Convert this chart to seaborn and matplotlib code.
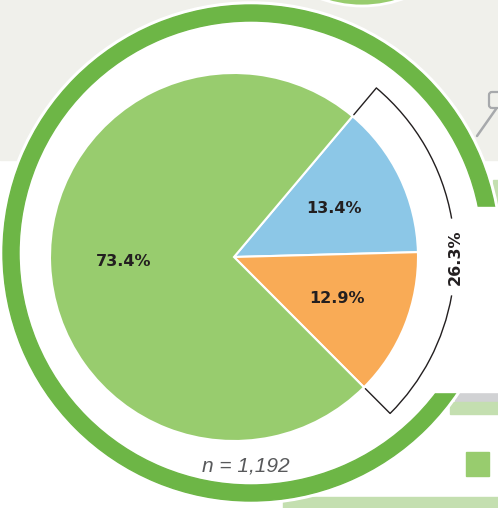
import numpy as np
import seaborn as sns
import matplotlib.pyplot as plt
from matplotlib.patches import Wedge, Circle, Rectangle, Arc, FancyBboxPatch

# pie data (clockwise from the top-right boundary)
segments = ["Blue", "Orange", "Green"]
shares = [13.4, 12.9, 73.4]
share_labels = ["13.4%", "12.9%", "73.4%"]
seg_colors = ["#8cc7e7", "#f9ab56", "#98cc6e"]
n_total = 1192

W, H = 498, 508
PIE_C = (234, H - 257)
PIE_R = 184
RING_C = (251, H - 253)

sns.set_theme(style="white")
plt.rcParams['font.family'] = ['DejaVu Sans']

fig = plt.figure(figsize=(W / 100, H / 100), dpi=100)
ax = fig.add_axes([0, 0, 1, 1])

# background decorations
ax.add_patch(Rectangle((0, H - 160), W, 160, color="#f0f0eb", zorder=0))
ax.add_patch(Circle((362, H + 114), 120, facecolor="#98cc6e", edgecolor="white", lw=2, zorder=1))
ax.add_patch(Rectangle((493, H - 207), 10, 27, color="#c4dfb0", zorder=1))
ax.add_patch(Rectangle((455, H - 402), 50, 10, color="#d1d2d4", zorder=1))
ax.add_patch(Rectangle((450, H - 414), 55, 12, color="#c4dfb0", zorder=1))
ax.add_patch(Rectangle((283, 0), 220, 11, color="#c4dfb0", zorder=1))
ax.add_patch(Rectangle((466, H - 476), 23, 24, color="#98cc6e", zorder=1))
ax.add_patch(FancyBboxPatch((490, H - 107), 14, 14, boxstyle="round,pad=1,rounding_size=3",
                            facecolor="none", edgecolor="#a7a9ac", lw=1.6, zorder=1))
ax.plot([496, 477], [H - 109, H - 136], color="#a7a9ac", lw=1.8, zorder=1)

# big ring with white halo
ax.add_patch(Circle(RING_C, 251, color="white", zorder=2))
ax.add_patch(Wedge(RING_C, 248, 0, 360, width=16, color="#6db646", zorder=3))
ax.add_patch(Rectangle((425, H - 392), 80, 185, color="white", zorder=4))

wedges, texts = ax.pie(
    shares, colors=seg_colors, center=PIE_C, radius=PIE_R,
    startangle=49.9, counterclock=False,
    labels=share_labels, labeldistance=0.603,
    wedgeprops=dict(edgecolor="white", linewidth=1.5, zorder=5),
    textprops=dict(fontsize=11.5, fontweight="bold", color="#231f20"),
)
for t in texts:
    t.set_ha("center")
    t.set_va("center")
    t.set_zorder(7)

# bracket around the two smaller slices
top = wedges[0].theta2
bottom = wedges[1].theta1
br = 221
gap = 10
ax.add_patch(Arc(PIE_C, 2 * br, 2 * br, theta1=gap, theta2=top, color="#231f20", lw=1, zorder=6))
ax.add_patch(Arc(PIE_C, 2 * br, 2 * br, theta1=bottom, theta2=-gap, color="#231f20", lw=1, zorder=6))
for ang in (top, bottom):
    a = np.deg2rad(ang)
    ax.plot([PIE_C[0] + (PIE_R + 2) * np.cos(a), PIE_C[0] + br * np.cos(a)],
            [PIE_C[1] + (PIE_R + 2) * np.sin(a), PIE_C[1] + br * np.sin(a)],
            color="#231f20", lw=1, zorder=6)
ax.text(PIE_C[0] + br, PIE_C[1], f"{shares[0] + shares[1]:.1f}%", rotation=90,
        ha="center", va="center", fontsize=11.5, fontweight="bold", color="#231f20", zorder=7)

ax.text(246, H - 466, f"n = {n_total:,}", ha="center", va="center", fontsize=15,
        style="italic", color="#58595b", family=["Liberation Sans", "DejaVu Sans"], zorder=7)

ax.set_xlim(0, W)
ax.set_ylim(0, H)
ax.set_aspect("equal")
ax.axis("off")

fig.savefig("out.png", dpi=100)
plt.close(fig)
